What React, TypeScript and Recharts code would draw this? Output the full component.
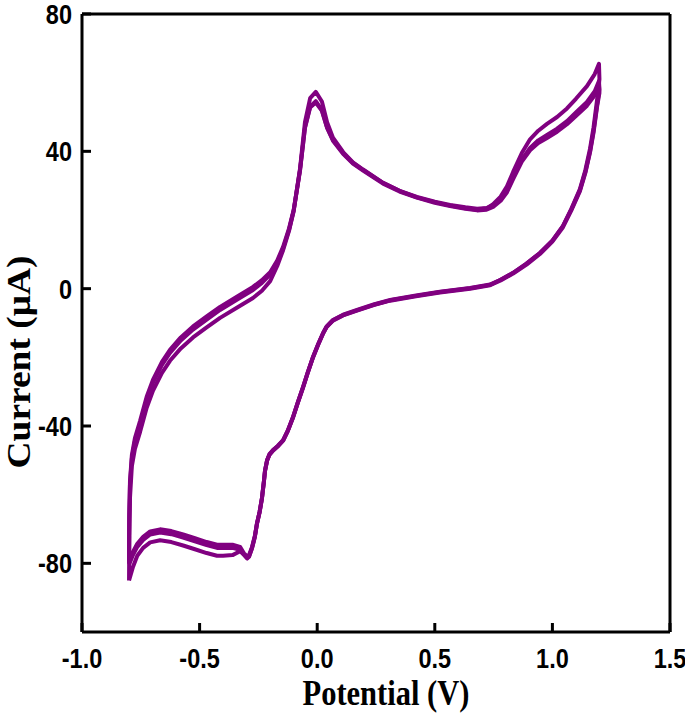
import { LineChart, Line, XAxis, YAxis, ReferenceLine, Label } from 'recharts'

// potential sweep (V): -0.8 -> 1.2 (anodic) then back to -0.8 (cathodic)
const potential = [
  -0.800, -0.799, -0.796, -0.788, -0.775, -0.753, -0.725, -0.698, -0.660, -0.626,
  -0.580, -0.528, -0.470, -0.413, -0.340, -0.273, -0.235, -0.200, -0.170, -0.145,
  -0.120, -0.100, -0.073, -0.052, -0.030, -0.006, 0.020, 0.042, 0.067, 0.110,
  0.152, 0.195, 0.280, 0.350, 0.424, 0.500, 0.565, 0.630, 0.680, 0.720,
  0.748, 0.780, 0.807, 0.833, 0.870, 0.905, 0.940, 0.977, 1.020, 1.062,
  1.100, 1.147, 1.180, 1.198, 1.200, 1.190, 1.175, 1.160, 1.140, 1.117,
  1.080, 1.045, 1.000, 0.947, 0.890, 0.833, 0.780, 0.735, 0.650, 0.522,
  0.420, 0.310, 0.240, 0.169, 0.110, 0.067, 0.040, 0.025, 0.005, -0.018,
  -0.040, -0.060, -0.083, -0.103, -0.125, -0.145, -0.168, -0.188, -0.203, -0.213,
  -0.222, -0.226, -0.235, -0.245, -0.256, -0.265, -0.277, -0.290, -0.298, -0.312,
  -0.328, -0.360, -0.400, -0.426, -0.470, -0.520, -0.570, -0.620, -0.668, -0.710,
  -0.740, -0.765, -0.783, -0.800,
]

// current (µA) for each cycle
const cycle1 = [
  -85, -72, -61, -51.7, -46.7, -41.7, -34.7, -29.7, -24.5, -21,
  -17.4, -14.2, -11.3, -8.5, -5.5, -2.7, -0.6, 2.2, 6.6, 11.2,
  16.8, 22.6, 35, 48.5, 55.5, 57.3, 54.5, 48.5, 44, 39.8,
  36.8, 34.7, 30.8, 28.5, 26.6, 25.2, 24.2, 23.4, 23, 23.4,
  24.6, 26.8, 29.8, 34, 39.5, 43.5, 46, 48, 50, 52.5,
  55.3, 59, 62.5, 65.5, 61, 55, 47, 40.8, 34.5, 29,
  23.2, 18.3, 14, 10.4, 7.3, 4.6, 2.6, 1.1, 0.1, -1,
  -2.1, -3.4, -4.7, -6.3, -7.7, -9.2, -11.1, -13, -16.1, -20,
  -24.4, -28.7, -33.3, -37.5, -41.4, -44.2, -45.9, -47.1, -48.3, -50,
  -53.1, -55.8, -61.1, -65.1, -68.4, -72.2, -75.5, -78, -78.4, -77.4,
  -76.5, -77.6, -77.8, -77.8, -77, -75.9, -74.8, -73.8, -73.3, -73.9,
  -75.5, -77.8, -81, -85,
]
const cycle2 = [
  -79, -66, -56, -48.5, -43.5, -38.5, -31.5, -26.5, -21.3, -17.8,
  -14.2, -11, -8.1, -5.3, -2.3, 0.5, 2.5, 4.8, 8.2, 12.2,
  17.5, 23, 34.6, 47, 53, 54.6, 52, 47, 43.3, 39.5,
  36.6, 34.6, 30.8, 28.5, 26.7, 25.3, 24.4, 23.7, 23.3, 23.5,
  24.3, 26.1, 28.6, 32.4, 37.6, 41, 43.2, 44.8, 46.6, 48.8,
  51.3, 54.4, 57.5, 60.5, 58, 53.5, 46, 40, 34, 28.7,
  23, 18.2, 14, 10.4, 7.3, 4.6, 2.6, 1.2, 0.2, -0.9,
  -2, -3.3, -4.6, -6.2, -7.6, -9.1, -11, -12.9, -16, -19.9,
  -24.3, -28.6, -33.2, -37.4, -41.3, -44.1, -45.8, -47, -48.2, -49.9,
  -53, -55.7, -61, -65, -68.3, -72, -75.2, -77.6, -78, -77,
  -75.2, -74.6, -74.6, -74.6, -73.8, -72.7, -71.6, -70.6, -70.1, -70.7,
  -72.3, -74.3, -76.6, -79.5,
]
const cycle3 = [
  -80, -67, -57, -49.4, -44.4, -39.4, -32.4, -27.4, -22.2, -18.7,
  -15.1, -11.9, -9, -6.2, -3.2, -0.4, 1.7, 4.1, 7.6, 11.7,
  17.1, 22.7, 34.4, 46.8, 52.8, 54.2, 51.8, 46.8, 43.1, 39.3,
  36.4, 34.4, 30.6, 28.3, 26.5, 25, 24.1, 23.3, 22.8, 23,
  23.8, 25.6, 28.1, 31.9, 37, 40.3, 42.4, 43.9, 45.7, 47.9,
  50.3, 53.3, 56.3, 59.2, 57, 53, 45.5, 39.7, 33.7, 28.4,
  22.7, 17.9, 13.7, 10.1, 7, 4.4, 2.4, 1, 0, -1.1,
  -2.2, -3.5, -4.8, -6.4, -7.8, -9.3, -11.2, -13.1, -16.2, -20.1,
  -24.5, -28.8, -33.4, -37.6, -41.5, -44.3, -46, -47.2, -48.4, -50.1,
  -53.2, -55.9, -61.2, -65.2, -68.5, -72.3, -75.6, -78.1, -78.6, -77.5,
  -76.1, -75.5, -75.5, -75.5, -74.7, -73.6, -72.5, -71.5, -71, -71.6,
  -73.2, -75.2, -77.5, -80.4,
]

const xTicks = [-1.0, -0.5, 0.0, 0.5, 1.0, 1.5]
const yTicks = [-80, -40, 0, 40, 80]

const toPoints = (cur: number[]) => potential.map((x, i) => ({ x, y: cur[i] }))
const cycles = [cycle1, cycle2, cycle3].map(toPoints)

const PLOT_LEFT = 82
const PLOT_BOTTOM = 632
const PURPLE = '#800080'
const tickFont = "'Liberation Sans', Arial, sans-serif"
const titleFont = "'Liberation Serif', 'Times New Roman', serif"

function XTick(props: any) {
  const { x, payload } = props
  return (
    <g>
      <line x1={x} x2={x} y1={PLOT_BOTTOM} y2={PLOT_BOTTOM - 9} stroke="#000" strokeWidth={3} />
      <g transform={`translate(${x},668) scale(0.84,1)`}>
        <text x={0} y={0} textAnchor="middle" fontFamily={tickFont} fontWeight="bold" fontSize={28} fill="#000">
          {payload.value.toFixed(1)}
        </text>
      </g>
    </g>
  )
}

function YTick(props: any) {
  const { y, payload } = props
  return (
    <g>
      <line x1={PLOT_LEFT} x2={PLOT_LEFT + 9} y1={y} y2={y} stroke="#000" strokeWidth={3} />
      <g transform={`translate(72,${y + 10}) scale(0.84,1)`}>
        <text x={0} y={0} textAnchor="end" fontFamily={tickFont} fontWeight="bold" fontSize={28} fill="#000">
          {payload.value}
        </text>
      </g>
    </g>
  )
}

const XTitle = () => (
  <text x={386} y={705} textAnchor="middle" fontFamily={titleFont} fontWeight="bold" fontSize={35}
    textLength={167} lengthAdjust="spacingAndGlyphs" fill="#000">
    Potential (V)
  </text>
)

const YTitle = () => (
  <text transform="translate(30,362) rotate(-90)" textAnchor="middle" fontFamily={titleFont} fontWeight="bold"
    fontSize={33} textLength={213} lengthAdjust="spacingAndGlyphs" fill="#000">
    Current (μA)
  </text>
)

export default function App() {
  return (
    <div style={{ position: 'absolute', left: 0, top: 0, background: '#fff' }}>
      <LineChart width={685} height={715} margin={{ top: 14, right: 15, bottom: 0, left: 0 }}>
        <XAxis dataKey="x" type="number" domain={[-1, 1.5]} ticks={xTicks} height={83}
          axisLine={{ stroke: '#000', strokeWidth: 3 }} tickLine={false} tick={<XTick />} interval={0}
          allowDataOverflow>
          <Label content={<XTitle />} />
        </XAxis>
        <YAxis type="number" domain={[-100, 80]} ticks={yTicks} width={82}
          axisLine={{ stroke: '#000', strokeWidth: 3 }} tickLine={false} tick={<YTick />} interval={0}
          allowDataOverflow>
          <Label content={<YTitle />} />
        </YAxis>
        <ReferenceLine y={80} stroke="#000" strokeWidth={3} />
        <ReferenceLine x={1.5} stroke="#000" strokeWidth={3} />
        {cycles.map((pts, i) => (
          <Line key={i} data={pts} dataKey="y" type="linear" dot={false} stroke={PURPLE}
            strokeWidth={4} strokeLinejoin="round" isAnimationActive={false} />
        ))}
      </LineChart>
    </div>
  )
}
